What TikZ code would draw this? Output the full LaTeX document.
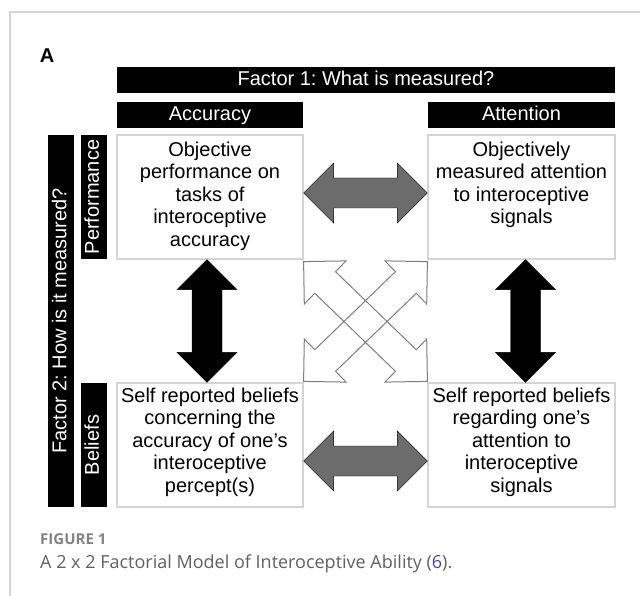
\documentclass[tikz,border=0pt]{standalone}
\usepackage{fontspec}
\setmainfont{Liberation Sans}
\newfontfamily\capfont{Open Sans}
\usepackage{tikz}
\usetikzlibrary{calc, positioning}
\frenchspacing
\definecolor{cellline}{RGB}{212,212,212}
\definecolor{framegray}{RGB}{212,212,212}
\definecolor{arrowgray}{RGB}{108,108,108}
\definecolor{crossgray}{RGB}{125,125,125}
\definecolor{capgray}{RGB}{95,95,95}
\definecolor{figgray}{RGB}{130,130,130}
\definecolor{reflink}{RGB}{70,70,170}
\tikzset{
  headbar/.style={rectangle, fill=black, text=white, inner sep=0pt,
    minimum height=26pt, text height=14.5pt, text depth=4pt,
    font=\fontsize{20}{22}\selectfont},
  sidebar/.style={rectangle, fill=black, text=white, inner sep=0pt,
    minimum height=26pt, text height=14.5pt, text depth=4pt,
    rotate=90, font=\fontsize{20}{22}\selectfont},
  cell/.style={rectangle, draw=cellline, fill=white, line width=1.2pt,
    minimum width=186pt, minimum height=124pt, inner sep=0pt},
  celltext/.style={align=center, inner sep=0pt, anchor=north,
    font=\fontsize{20}{22.5}\selectfont},
  % fat double arrow between two points: head 30pt long, 60pt wide, shaft 30pt
  fatarrow/.style={to path={
    -- ($(\tikztostart)!30pt!(\tikztotarget)!30pt!90:(\tikztotarget)$)
    -- ($(\tikztostart)!30pt!(\tikztotarget)!15pt!90:(\tikztotarget)$)
    -- ($(\tikztotarget)!30pt!(\tikztostart)!15pt!-90:(\tikztostart)$)
    -- ($(\tikztotarget)!30pt!(\tikztostart)!30pt!-90:(\tikztostart)$)
    -- (\tikztotarget)
    -- ($(\tikztotarget)!30pt!(\tikztostart)!30pt!90:(\tikztostart)$)
    -- ($(\tikztotarget)!30pt!(\tikztostart)!15pt!90:(\tikztostart)$)
    -- ($(\tikztostart)!30pt!(\tikztotarget)!15pt!-90:(\tikztotarget)$)
    -- ($(\tikztostart)!30pt!(\tikztotarget)!30pt!-90:(\tikztotarget)$)
    -- cycle}},
  blackarrow/.style={fatarrow, fill=black},
  grayarrow/.style={fatarrow, fill=arrowgray},
  crossarrow/.style={fatarrow, draw=crossgray, line width=1pt, line join=miter}
}

\begin{document}
\begin{tikzpicture}[x=1pt, y=-1pt]
  \useasboundingbox (0,0) rectangle (640,596);
  % page frame
  \draw[framegray, line width=1.2pt] (10,596) -- (10,12) -- (640,12);

  \node[font=\bfseries\fontsize{20}{20}\selectfont] (panel) at (47,56) {A};

  % column headers
  \node[headbar, minimum width=498pt] (factor1) at (366,80.5) {Factor 1: What is measured?};
  \node[headbar, minimum width=186pt] (accuracy) at (210,115) {Accuracy};
  \node[headbar, minimum width=187pt] (attention) at (521.5,115) {Attention};

  % row headers
  \node[sidebar, minimum width=372pt] (factor2) at (61,321) {Factor 2: How is it measured?};
  \node[sidebar, minimum width=124pt] (performance) at (93.5,197) {Performance};
  \node[sidebar, minimum width=124pt] (beliefs) at (93.5,445) {Beliefs};

  % the four cells
  \node[cell] (acc-perf) at (210,197) {};
  \node[cell, minimum width=187pt] (att-perf) at (521.5,197) {};
  \node[cell] (acc-bel) at (210,445) {};
  \node[cell, minimum width=187pt] (att-bel) at (521.5,445) {};

  \node[celltext] (acc-perf-txt) at ([yshift=-7pt]acc-perf.north)
    {Objective\\performance on\\tasks of\\interoceptive\\accuracy};
  \node[celltext] (att-perf-txt) at ([yshift=-7pt]att-perf.north)
    {Objectively\\measured attention\\to interoceptive\\signals};
  \node[celltext] (acc-bel-txt) at ([yshift=-5pt]acc-bel.north)
    {Self reported beliefs\\concerning the\\accuracy of one's\\interoceptive\\percept(s)};
  \node[celltext] (att-bel-txt) at ([yshift=-5pt]att-bel.north)
    {Self reported beliefs\\regarding one's\\attention to\\interoceptive\\signals};

  % links between cells
  \draw[grayarrow] ([yshift=4pt]acc-perf.east) to ([yshift=4pt]att-perf.west);
  \draw[grayarrow] ([yshift=-16pt]acc-bel.east) to ([yshift=-16pt]att-bel.west);
  \draw[blackarrow] ([xshift=-3pt]acc-perf.south) to ([xshift=-3pt]acc-bel.north);
  \draw[blackarrow] ([xshift=4pt]att-perf.south) to ([xshift=4pt]att-bel.north);
  \draw[crossarrow] ([yshift=-2pt]acc-perf.south east) to ([yshift=1pt]att-bel.north west);
  \draw[crossarrow] ([yshift=-2pt]att-perf.south west) to ([yshift=1pt]acc-bel.north east);

  % caption
  \node[anchor=base west, inner sep=0pt, text=figgray,
    font=\capfont\bfseries\fontsize{15}{18}\selectfont] (figlabel) at (40,544) {FIGURE 1};
  \node[anchor=base west, inner sep=0pt, text=capgray,
    font=\capfont\fontsize{18}{22}\selectfont] (caption) at (40,568)
    {A 2 x 2 Factorial Model of Interoceptive Ability (\textcolor{reflink}{6}).};
\end{tikzpicture}
\end{document}
